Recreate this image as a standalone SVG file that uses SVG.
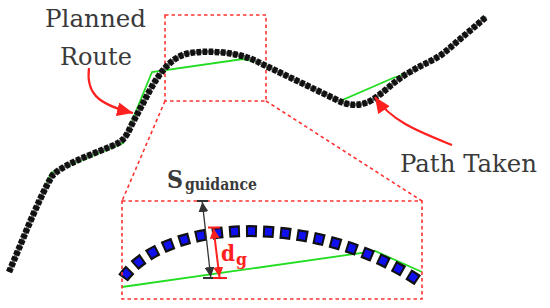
<svg xmlns="http://www.w3.org/2000/svg" width="550" height="308" viewBox="0 0 550 308">
<style>
.red-dash{fill:none;stroke:#ff3333;stroke-width:1.6;stroke-dasharray:3.5 3}
.green{fill:none;stroke:#22dd22;stroke-width:1.8;stroke-linejoin:miter}
.path-base{fill:none;stroke:#666;stroke-width:3.5}
.path-dots{fill:none;stroke:#111;stroke-width:6.5;stroke-dasharray:4.5 1.6}
.callout{fill:none;stroke:#ff2020;stroke-width:2.2}
</style>
<defs>
<marker id="redHead" markerUnits="userSpaceOnUse" markerWidth="16" markerHeight="14" viewBox="0 0 16 14" refX="16" refY="7" orient="auto">
<path d="M0,0 L16,7 L0,14 z" fill="#ff2020"/>
</marker>
<marker id="blkDim" markerUnits="userSpaceOnUse" markerWidth="10" markerHeight="10" viewBox="0 0 10 10" refX="10" refY="5" orient="auto-start-reverse">
<path d="M0,0 L10,5 L0,10 z" fill="#333"/>
</marker>
<marker id="redDim" markerUnits="userSpaceOnUse" markerWidth="10" markerHeight="10" viewBox="0 0 10 10" refX="10" refY="5" orient="auto-start-reverse">
<path d="M0,0 L10,5 L0,10 z" fill="#ff2020"/>
</marker>
</defs>

<g id="zoom-frames">
<rect class="red-dash" x="165" y="15" width="101" height="86"/>
<line class="red-dash" x1="165" y1="101" x2="122" y2="201"/>
<line class="red-dash" x1="266" y1="101" x2="422" y2="201"/>
</g>

<g id="planned-route">
<path class="green" d="M9,271 L51,173 L123,143 L152,72 L243,59 C250,60 255,61 260,63 L335,99 C338,100 339,101 340,101 L393,78 C400,76 405,74 410,72 C425,63 435,60 445,52 L486,17"/>
</g>

<g id="path-taken">
<path class="path-base" d="M9,272 C22,242 38,200 52,176 C62,165 90,155 112,146 C122,142 126,138 131,126 L150,90 C160,72 172,56 190,53 C210,50 240,52 260,63 L335,99 C348,106 360,107 372,100 C385,92 395,80 410,72 C425,63 435,60 445,52 L486,17"/>
<path class="path-dots" d="M9,272 C22,242 38,200 52,176 C62,165 90,155 112,146 C122,142 126,138 131,126 L150,90 C160,72 172,56 190,53 C210,50 240,52 260,63 L335,99 C348,106 360,107 372,100 C385,92 395,80 410,72 C425,63 435,60 445,52 L486,17"/>
</g>

<g id="label-planned-route">
<text font-family="DejaVu Serif, serif" font-size="25" fill="#3a3a3a" x="95.5" y="27" text-anchor="middle" textLength="101" lengthAdjust="spacingAndGlyphs">Planned</text>
<text font-family="DejaVu Serif, serif" font-size="25" fill="#3a3a3a" x="96" y="65" text-anchor="middle" textLength="72" lengthAdjust="spacingAndGlyphs">Route</text>
</g>

<g id="label-path-taken">
<text font-family="DejaVu Serif, serif" font-size="25" fill="#3a3a3a" x="400" y="172" textLength="137" lengthAdjust="spacingAndGlyphs">Path Taken</text>
</g>

<g id="connectors">
<path class="callout" d="M89,68 C86,92 96,104 133,113" marker-end="url(#redHead)"/>
<path class="callout" d="M452,145 C420,132 392,122 375,97" marker-end="url(#redHead)"/>
</g>

<g id="detail-view">
<polyline class="green" points="122,287 375,251 422,272"/>
<path d="M123,278 C170,215 320,215 419,281" fill="none" stroke="#111" stroke-width="12" stroke-dasharray="11 6"/>
<path d="M123,278 C170,215 320,215 419,281" fill="none" stroke="#1010ee" stroke-width="7.5" stroke-dasharray="7 10" stroke-dashoffset="-2"/>
<rect class="red-dash" x="122" y="201" width="300" height="98"/>
</g>

<g id="dim-guidance">
<line x1="197" y1="201" x2="208" y2="201" stroke="#333" stroke-width="2"/>
<line x1="203" y1="278" x2="215" y2="278" stroke="#333" stroke-width="2"/>
<line x1="202.3" y1="202" x2="210.7" y2="277" stroke="#333" stroke-width="1.3" marker-start="url(#blkDim)" marker-end="url(#blkDim)"/>
<text x="167" y="188" font-family="DejaVu Serif, serif" font-weight="bold" font-size="25" fill="#3a3a3a" textLength="16" lengthAdjust="spacingAndGlyphs">S</text>
<text x="185" y="190" font-family="DejaVu Serif, serif" font-weight="bold" font-size="17" fill="#3a3a3a" textLength="72" lengthAdjust="spacingAndGlyphs">guidance</text>
</g>

<g id="dim-dg">
<line x1="208" y1="227.5" x2="220" y2="227.5" stroke="#ff2020" stroke-width="2"/>
<line x1="213" y1="278" x2="227" y2="278" stroke="#ff2020" stroke-width="2"/>
<line x1="213.5" y1="228.5" x2="219.5" y2="277" stroke="#ff2020" stroke-width="2" marker-start="url(#redDim)" marker-end="url(#redDim)"/>
<text x="221" y="261" font-family="DejaVu Serif, serif" font-weight="bold" font-size="23" fill="#ff2020" textLength="14" lengthAdjust="spacingAndGlyphs">d</text>
<text x="236" y="265" font-family="DejaVu Serif, serif" font-weight="bold" font-size="17" fill="#ff2020" textLength="11" lengthAdjust="spacingAndGlyphs">g</text>
</g>
</svg>
